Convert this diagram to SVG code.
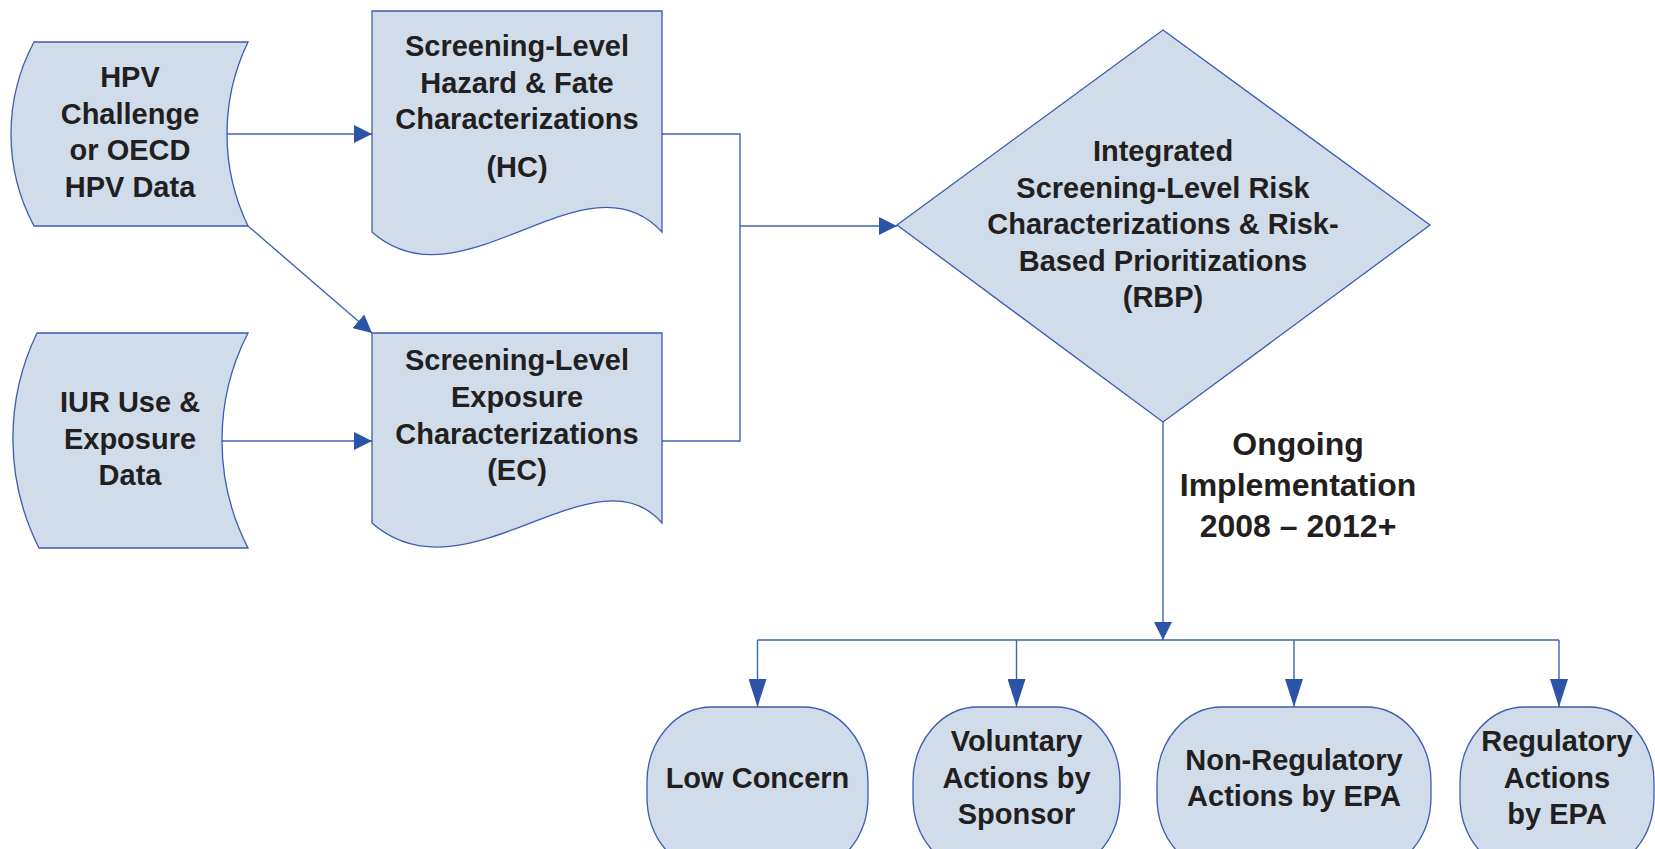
<svg xmlns="http://www.w3.org/2000/svg" width="1655" height="849" viewBox="0 0 1655 849">
<defs>
<style>
.node{fill:#d1dcea;stroke:#3b5cb0;stroke-width:1.3}
.t{font-family:"Liberation Sans",Arial,sans-serif;font-weight:bold;font-size:29px;fill:#231f20;text-anchor:middle}
.big{font-size:32px}
.c{fill:none;stroke:#4063b3;stroke-width:1.4}
</style>
<marker id="ah" markerUnits="userSpaceOnUse" markerWidth="18" markerHeight="18" refX="18" refY="9" orient="auto">
<path d="M0,0 L18,9 L0,18 Z" fill="#2b54a8"/>
</marker>
<marker id="ahl" markerUnits="userSpaceOnUse" markerWidth="28" markerHeight="18" refX="28" refY="9" orient="auto">
<path d="M0,0 L28,9 L0,18 Z" fill="#2b54a8"/>
</marker>
</defs>
<rect width="1655" height="849" fill="#ffffff"/>

<g id="connectors">
<line class="c" x1="226" y1="134" x2="372" y2="134" marker-end="url(#ah)"/>
<line class="c" x1="248" y1="226" x2="372" y2="333" marker-end="url(#ah)"/>
<line class="c" x1="222" y1="441" x2="372" y2="441" marker-end="url(#ah)"/>
<polyline class="c" points="662,134 740,134 740,226 897,226" marker-end="url(#ah)"/>
<polyline class="c" points="662,441 740,441 740,226"/>
<line class="c" x1="1163" y1="422" x2="1163" y2="640" marker-end="url(#ah)"/>
<line class="c" x1="757.5" y1="640" x2="1559" y2="640"/>
<line class="c" x1="757.5" y1="640" x2="757.5" y2="707" marker-end="url(#ahl)"/>
<line class="c" x1="1016.5" y1="640" x2="1016.5" y2="707" marker-end="url(#ahl)"/>
<line class="c" x1="1294" y1="640" x2="1294" y2="707" marker-end="url(#ahl)"/>
<line class="c" x1="1559" y1="640" x2="1559" y2="707" marker-end="url(#ahl)"/>
</g>

<g id="hpv">
<path class="node" d="M34 42 H248 A212 212 0 0 0 248 226 H34 A195.5 195.5 0 0 1 34 42 Z"/>
<text class="t" x="130" y="87">HPV</text>
<text class="t" x="130" y="123.5">Challenge</text>
<text class="t" x="130" y="160">or OECD</text>
<text class="t" x="130" y="196.5">HPV Data</text>
</g>

<g id="iur">
<path class="node" d="M37 333 H248 A235 235 0 0 0 248 548 H39 A243 243 0 0 1 37 333 Z"/>
<text class="t" x="130" y="412">IUR Use &amp;</text>
<text class="t" x="130" y="448.5">Exposure</text>
<text class="t" x="130" y="485">Data</text>
</g>

<g id="hc">
<path class="node" d="M372 11 H662 V232 C585 148 462 312 372 232 Z"/>
<text class="t" x="517" y="56">Screening-Level</text>
<text class="t" x="517" y="92.5">Hazard &amp; Fate</text>
<text class="t" x="517" y="129">Characterizations</text>
<text class="t" x="517" y="177">(HC)</text>
</g>

<g id="ec">
<path class="node" d="M372 333 H662 V523 C595 445 465 605 372 523 Z"/>
<text class="t" x="517" y="370">Screening-Level</text>
<text class="t" x="517" y="407">Exposure</text>
<text class="t" x="517" y="443.5">Characterizations</text>
<text class="t" x="517" y="480">(EC)</text>
</g>

<g id="rbp">
<polygon class="node" points="1163,30 1430,225 1163,422 897,225"/>
<text class="t" x="1163" y="161">Integrated</text>
<text class="t" x="1163" y="197.5">Screening-Level Risk</text>
<text class="t" x="1163" y="234">Characterizations &amp; Risk-</text>
<text class="t" x="1163" y="270.5">Based Prioritizations</text>
<text class="t" x="1163" y="307">(RBP)</text>
</g>

<g id="ongoing">
<text class="t big" x="1298" y="455">Ongoing</text>
<text class="t big" x="1298" y="496">Implementation</text>
<text class="t big" x="1298" y="537">2008 – 2012+</text>
</g>

<g id="low">
<rect class="node" x="647" y="707" width="221" height="165" rx="65" ry="75"/>
<text class="t" x="757.5" y="788">Low Concern</text>
</g>

<g id="voluntary">
<rect class="node" x="913" y="707" width="207" height="165" rx="65" ry="75"/>
<text class="t" x="1016.5" y="751">Voluntary</text>
<text class="t" x="1016.5" y="787.5">Actions by</text>
<text class="t" x="1016.5" y="824">Sponsor</text>
</g>

<g id="nonreg">
<rect class="node" x="1157" y="707" width="274" height="165" rx="65" ry="75"/>
<text class="t" x="1294" y="770">Non-Regulatory</text>
<text class="t" x="1294" y="806">Actions by EPA</text>
</g>

<g id="reg">
<rect class="node" x="1460" y="707" width="194" height="165" rx="65" ry="75"/>
<text class="t" x="1557" y="751">Regulatory</text>
<text class="t" x="1557" y="787.5">Actions</text>
<text class="t" x="1557" y="824">by EPA</text>
</g>
</svg>
